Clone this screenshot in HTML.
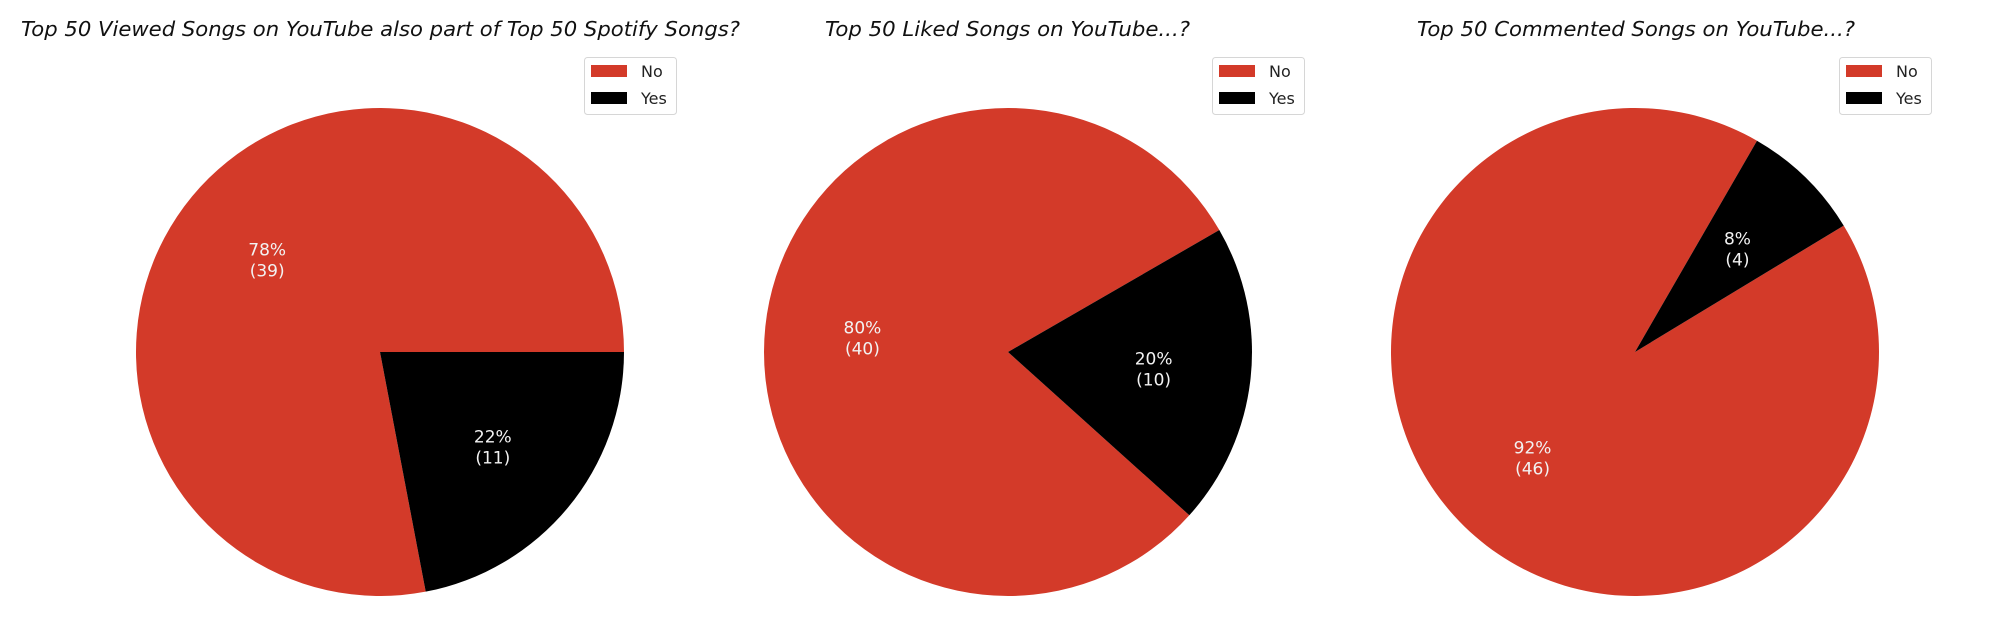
<!DOCTYPE html>
<html><head><meta charset="utf-8"><style>
html,body{margin:0;padding:0;background:#fff;}
svg{display:block;font-family:"DejaVu Sans","Liberation Sans",sans-serif;}
</style></head><body>
<svg id="chart" width="1994" height="638" viewBox="0 0 1994 638" xmlns="http://www.w3.org/2000/svg"></svg>
<script>
const categories = ["No", "Yes"];
const titles = ["Top 50 Viewed Songs on YouTube also part of Top 50 Spotify Songs?", "Top 50 Liked Songs on YouTube...?", "Top 50 Commented Songs on YouTube...?"];
const noCounts = [39, 40, 46];
const yesCounts = [11, 10, 4];
const startAngles = [0, 30, 60];
const colors = ["#d33a29", "#000000"];
const centersX = [380, 1008, 1635];
const titleX = [21, 825, 1417];
const titleW = [719, 365, 438];
const legendX = [584, 1212, 1839];
const cy = 352, R = 244;
const NS = "http://www.w3.org/2000/svg";
const svg = document.getElementById('chart');
function mk(tag, attrs, parent){const e=document.createElementNS(NS,tag);for(const k in attrs)e.setAttribute(k,attrs[k]);(parent||svg).appendChild(e);return e;}
function pt(cx,a,r){const t=a*Math.PI/180;return [cx+r*Math.cos(t), cy-r*Math.sin(t)];}
for(let i=0;i<3;i++){
  const g=mk('g',{});
  
  
  const t=mk('text',{x:titleX[i],y:36,'font-size':20,'font-style':'italic',fill:'#111',textLength:titleW[i],lengthAdjust:'spacingAndGlyphs'},g);
  t.textContent=titles[i];
  
  
  const vals=[noCounts[i],yesCounts[i]];
  const tot=vals[0]+vals[1];
  let a=startAngles[i];
  const cx=centersX[i];
  for(let j=0;j<2;j++){
    const span=vals[j]/tot*360;
    const a2=a+span;
    const p1=pt(cx,a,R),p2=pt(cx,a2,R);
    const large=span>180?1:0;
    const path=mk('path',{d:`M${cx},${cy} L${p1[0]},${p1[1]} A${R},${R} 0 ${large} 0 ${p2[0]},${p2[1]} Z`,fill:colors[j]},g);
    
    
    const m=pt(cx,a+span/2,R*0.6);
    const pct=Math.round(vals[j]/tot*100);
    const lt=mk('text',{x:m[0],y:m[1]-3,'font-size':17,fill:'#f2f2f2','text-anchor':'middle'},g);
    lt.textContent=pct+'%';
    
    
    const lc=mk('text',{x:m[0],y:m[1]+18,'font-size':17,fill:'#f2f2f2','text-anchor':'middle'},g);
    lc.textContent='('+vals[j]+')';
    
    
    a=a2;
  }
  const lg=mk('g',{},g);
  
  
  const lx=legendX[i];
  mk('rect',{x:lx+0.5,y:57.5,width:92,height:57,rx:3,fill:'#fff',stroke:'#d6d6d6','stroke-width':1},lg);
  for(let j=0;j<2;j++){
    const e=mk('g',{},lg);
    
    
    mk('rect',{x:lx+7,y:65+j*27,width:36,height:12,fill:colors[j]},e);
    const tx=mk('text',{x:lx+57,y:77+j*27,'font-size':16,fill:'#222'},e);
    tx.textContent=categories[j];
  }
}
</script>
</body></html>
